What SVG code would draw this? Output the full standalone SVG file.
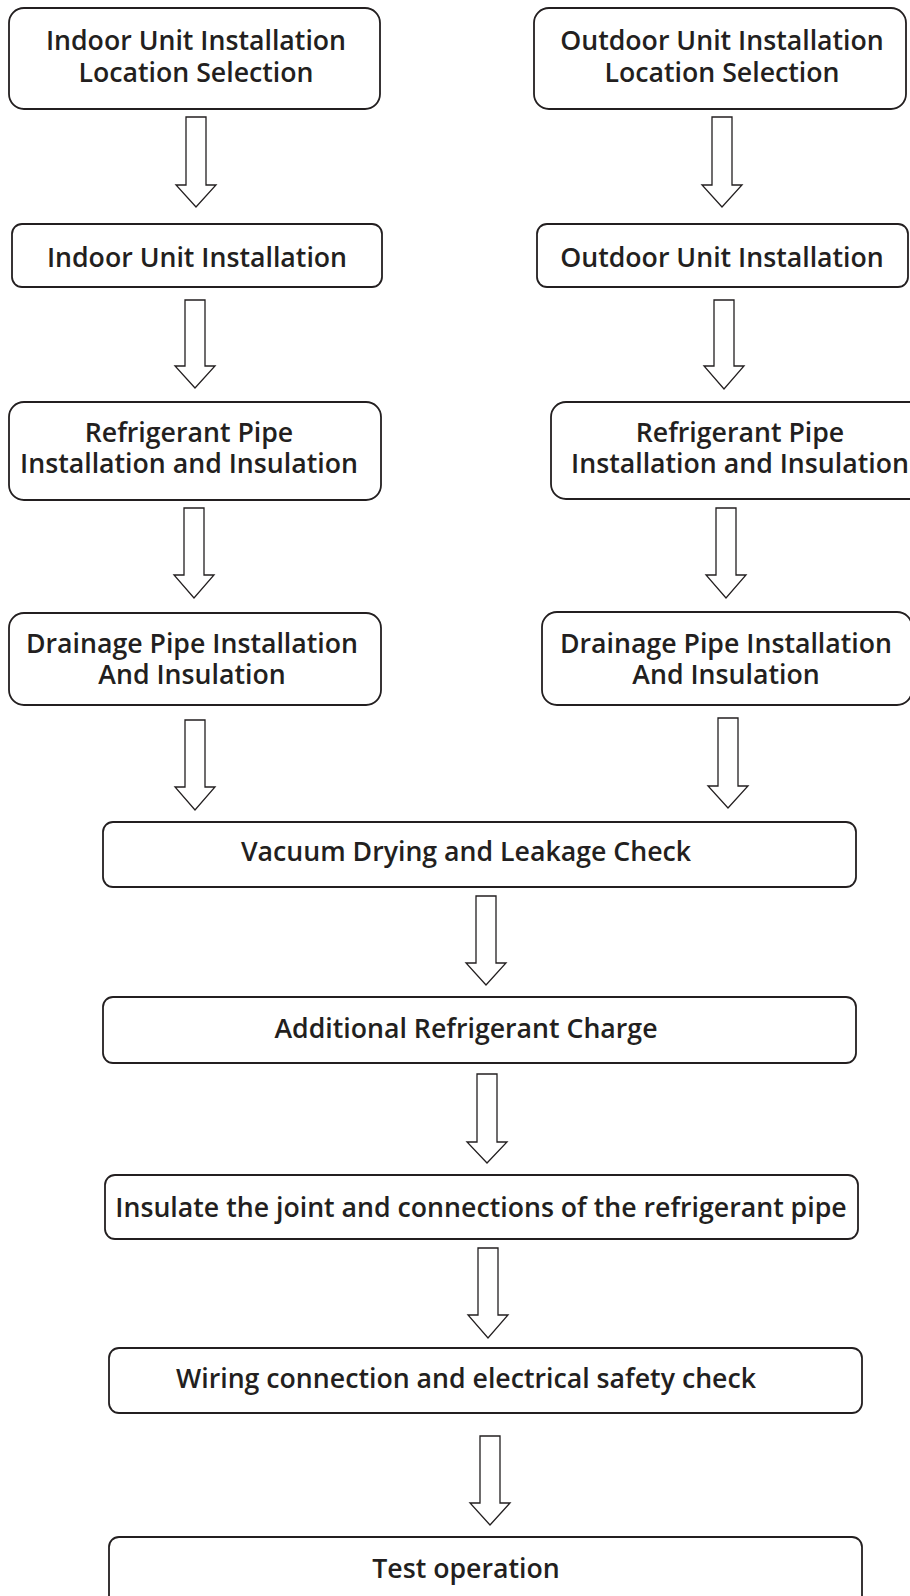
<svg xmlns="http://www.w3.org/2000/svg" width="910" height="1596" viewBox="0 0 910 1596">
<style>
.box{fill:#fff;stroke:#231f20;stroke-width:1.8}
.t{font-family:"Open Sans","Noto Sans",sans-serif;font-weight:600;font-size:26.7px;fill:#231f20;text-anchor:middle}
.arr{fill:#fff;stroke:#231f20;stroke-width:1.3;stroke-linejoin:miter}
</style>
<rect width="910" height="1596" fill="#fff"/>
<g id="connectors">
<path class="arr" d="M186,117H206V185H216L196,207L176,185H186Z"/>
<path class="arr" d="M712,117H732V185H742L722,207L702,185H712Z"/>
<path class="arr" d="M185,300H205V366H215L195,388L175,366H185Z"/>
<path class="arr" d="M714,300H734V366H744L724,389L704,366H714Z"/>
<path class="arr" d="M184,508H204V575H214L194,598L174,575H184Z"/>
<path class="arr" d="M716,508H736V575H746L726,598L706,575H716Z"/>
<path class="arr" d="M185,720H205V787H215L195,810L175,787H185Z"/>
<path class="arr" d="M718,718H738V786H748L728,808L708,786H718Z"/>
<path class="arr" d="M476,896H496V963H506L486,985L466,963H476Z"/>
<path class="arr" d="M477,1074H497V1142H507L487,1163L467,1142H477Z"/>
<path class="arr" d="M478,1248H498V1315H508L488,1338L468,1315H478Z"/>
<path class="arr" d="M480,1436H500V1503H510L490,1525L470,1503H480Z"/>
</g>
<g id="n1"><rect class="box" x="9" y="8" width="371" height="101" rx="15"/><text class="t" x="196" y="50">Indoor Unit Installation</text><text class="t" x="196" y="82">Location Selection</text></g>
<g id="n2"><rect class="box" x="534" y="8" width="372" height="101" rx="15"/><text class="t" x="722" y="50">Outdoor Unit Installation</text><text class="t" x="722" y="82">Location Selection</text></g>
<g id="n3"><rect class="box" x="12" y="224" width="370" height="63" rx="10"/><text class="t" x="197" y="267">Indoor Unit Installation</text></g>
<g id="n4"><rect class="box" x="537" y="224" width="371" height="63" rx="10"/><text class="t" x="722" y="267">Outdoor Unit Installation</text></g>
<g id="n5"><rect class="box" x="9" y="402" width="372" height="98" rx="15"/><text class="t" x="189" y="442">Refrigerant Pipe</text><text class="t" x="189" y="473">Installation and Insulation</text></g>
<g id="n6"><rect class="box" x="551" y="402" width="378" height="97" rx="15"/><text class="t" x="740" y="442">Refrigerant Pipe</text><text class="t" x="740" y="473">Installation and Insulation</text></g>
<g id="n7"><rect class="box" x="9" y="613" width="372" height="92" rx="15"/><text class="t" x="192" y="653">Drainage Pipe Installation</text><text class="t" x="192" y="684">And Insulation</text></g>
<g id="n8"><rect class="box" x="542" y="612" width="370" height="93" rx="15"/><text class="t" x="726" y="653">Drainage Pipe Installation</text><text class="t" x="726" y="684">And Insulation</text></g>
<g id="n9"><rect class="box" x="103" y="822" width="753" height="65" rx="10"/><text class="t" x="466" y="861">Vacuum Drying and Leakage Check</text></g>
<g id="n10"><rect class="box" x="103" y="997" width="753" height="66" rx="10"/><text class="t" x="466" y="1038">Additional Refrigerant Charge</text></g>
<g id="n11"><rect class="box" x="105" y="1175" width="753" height="64" rx="10"/><text class="t" x="481" y="1217">Insulate the joint and connections of the refrigerant pipe</text></g>
<g id="n12"><rect class="box" x="109" y="1348" width="753" height="65" rx="10"/><text class="t" x="466" y="1388">Wiring connection and electrical safety check</text></g>
<g id="n13"><rect class="box" x="109" y="1537" width="753" height="70" rx="10"/><text class="t" x="466" y="1578">Test operation</text></g>
</svg>
